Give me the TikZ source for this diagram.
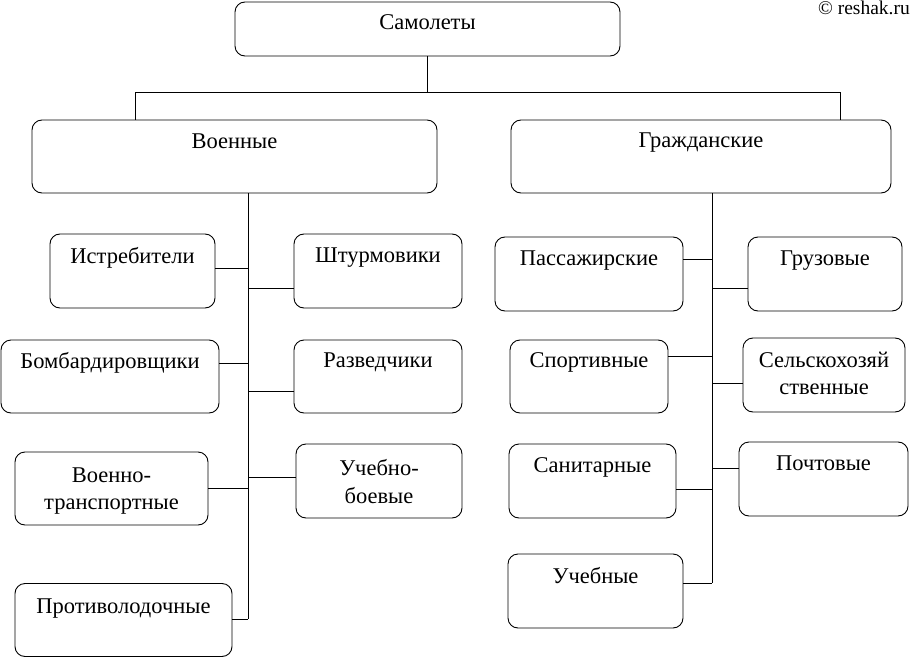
\documentclass[tikz,border=0pt]{standalone}
\usepackage{fontspec}
\setmainfont{Liberation Serif}

\tikzset{
  box/.style={draw, rounded corners=10pt, line width=0.9pt, minimum width=#1, minimum height=74pt, inner sep=0pt},
  caption/.style={anchor=north, inner sep=0pt, align=center, font=\fontsize{22.5}{27.5}\selectfont},
  link/.style={line width=0.7pt}
}

\begin{document}
\begin{tikzpicture}[x=1pt, y=-1pt]
\useasboundingbox (0,0) rectangle (910,658);

% top levels
\node[box=385pt, minimum height=54pt] (sam) at (427.5,29) {};
\node[caption] (tsam) at ([yshift=-13pt]sam.north) {Самолеты};
\node[box=405pt, minimum height=73pt] (voen) at (234.5,156.5) {};
\node[caption] (tvoen) at ([yshift=-14pt]voen.north) {Военные};
\node[box=380pt, minimum height=73pt] (grazh) at (701,156.5) {};
\node[caption] (tgrazh) at ([yshift=-13pt]grazh.north) {Гражданские};

\node[anchor=north east, inner sep=0pt, font=\fontsize{19.5}{22}\selectfont] (copy) at (910,1) {© reshak.ru};

\coordinate (jl) at (135,92);
\coordinate (jr) at (840,92);
\draw[link] (sam.south) -- (sam.south |- jl);
\draw[link] (voen.north -| jl) -- (jl) -- (jr) -- (grazh.north -| jr);

% military
\node[box=165pt] (ist) at (132.5,271) {};
\node[caption] (tist) at ([yshift=-14pt]ist.north) {Истребители};
\node[box=168pt] (shtu) at (378,271) {};
\node[caption] (tshtu) at ([yshift=-14pt]shtu.north) {Штурмовики};
\node[box=218pt, minimum height=73pt] (bomb) at (110,376.5) {};
\node[caption] (tbomb) at ([yshift=-13pt]bomb.north) {Бомбардировщики};
\node[box=168pt, minimum height=73pt] (razv) at (378,376.5) {};
\node[caption] (trazv) at ([yshift=-13pt]razv.north) {Разведчики};
\node[box=193pt, minimum height=73pt] (vtr) at (111.5,488.5) {};
\node[caption] (tvtr) at ([yshift=-16pt]vtr.north) {Военно-\\транспортные};
\node[box=166pt] (ucbo) at (379,481) {};
\node[caption] (tucbo) at ([yshift=-16pt]ucbo.north) {Учебно-\\боевые};
\node[box=217pt, minimum height=73pt] (prot) at (123.5,620) {};
\node[caption] (tprot) at ([yshift=-16pt]prot.north) {Противолодочные};

\coordinate (mspine) at (248,193);
\coordinate (mend) at (248,619);
\draw[link] (mspine) -- (mend);
\draw[link] ([yshift=3pt]ist.east) coordinate (a) -- (a -| mspine);
\draw[link] ([yshift=-17pt]shtu.west) coordinate (a) -- (a -| mspine);
\draw[link] ([yshift=13pt]bomb.east) coordinate (a) -- (a -| mspine);
\draw[link] ([yshift=-15pt]razv.west) coordinate (a) -- (a -| mspine);
\draw[link] (vtr.east) -- (vtr.east -| mspine);
\draw[link] ([yshift=4pt]ucbo.west) coordinate (a) -- (a -| mspine);
\draw[link] (prot.east |- mend) -- (mend);

% civil
\node[box=188pt] (pass) at (589,274) {};
\node[caption] (tpass) at ([yshift=-14pt]pass.north) {Пассажирские};
\node[box=154pt] (gruz) at (825,274) {};
\node[caption] (tgruz) at ([yshift=-14pt]gruz.north) {Грузовые};
\node[box=158pt, minimum height=73pt] (sport) at (589,376.5) {};
\node[caption] (tsport) at ([yshift=-13pt]sport.north) {Спортивные};
\node[box=162pt] (selh) at (824,375) {};
\node[caption] (tselh) at ([yshift=-14pt]selh.north) {Сельскохозяй\\ственные};
\node[box=167pt] (sanit) at (592.5,481) {};
\node[caption] (tsanit) at ([yshift=-14pt]sanit.north) {Санитарные};
\node[box=169pt] (pocht) at (823.5,479) {};
\node[caption] (tpocht) at ([yshift=-14pt]pocht.north) {Почтовые};
\node[box=175pt] (ucheb) at (595.5,591) {};
\node[caption] (tucheb) at ([yshift=-14pt]ucheb.north) {Учебные};

\coordinate (cspine) at (712,193);
\coordinate (cend) at (712,583);
\draw[link] (cspine) -- (cend);
\draw[link] ([yshift=15pt]pass.east) coordinate (a) -- (a -| cspine);
\draw[link] ([yshift=-14pt]gruz.west) coordinate (a) -- (a -| cspine);
\draw[link] ([yshift=20pt]sport.east) coordinate (a) -- (a -| cspine);
\draw[link] ([yshift=-8pt]selh.west) coordinate (a) -- (a -| cspine);
\draw[link] ([yshift=-8pt]sanit.east) coordinate (a) -- (a -| cspine);
\draw[link] ([yshift=11pt]pocht.west) coordinate (a) -- (a -| cspine);
\draw[link] (ucheb.east |- cend) -- (cend);
\end{tikzpicture}
\end{document}
